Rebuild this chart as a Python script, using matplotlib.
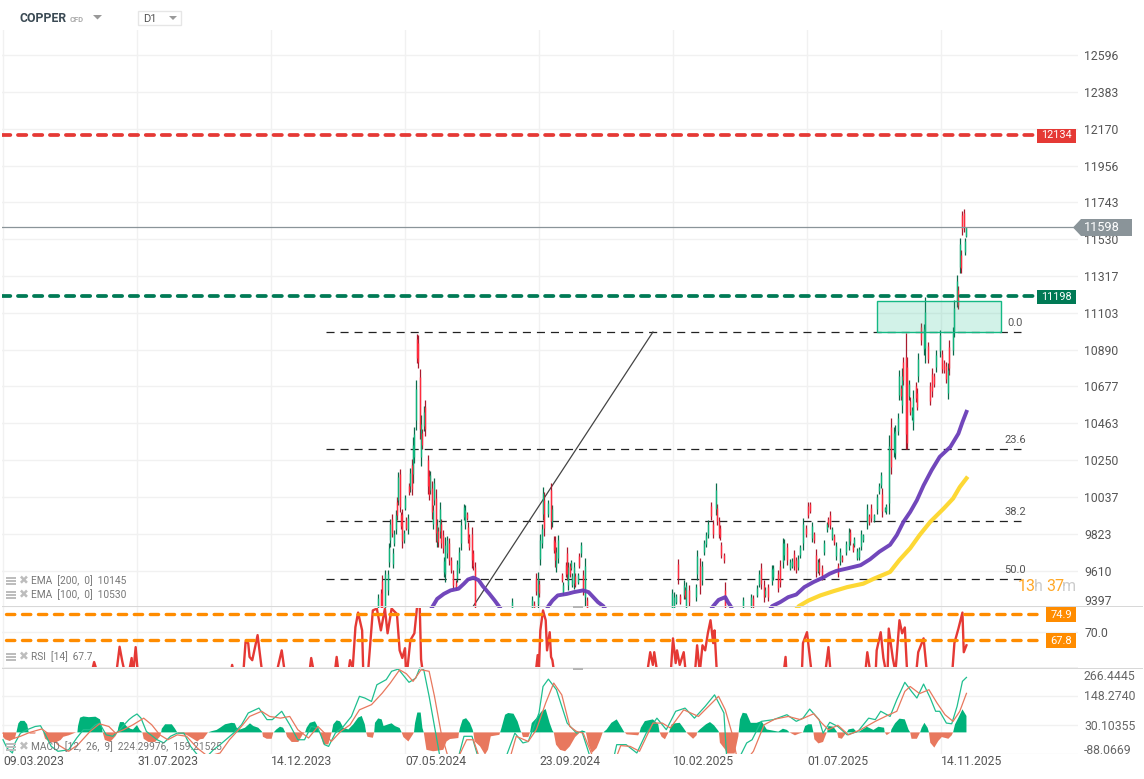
import numpy as np
import matplotlib
matplotlib.use('Agg')
import matplotlib.pyplot as plt
from matplotlib.patches import Rectangle, Polygon

W, H = 1144, 779
plt.rcParams['font.family'] = ['Roboto', 'DejaVu Sans']
plt.rcParams['lines.scale_dashes'] = False

#### data #####
date_ticks = [0, 100, 200, 300, 400, 500, 600, 700]
date_labels = ['09.03.2023', '31.07.2023', '14.12.2023', '07.05.2024', '23.09.2024', '10.02.2025', '01.07.2025', '14.11.2025']
price_ticks = [12596, 12383, 12170, 11956, 11743, 11530, 11317, 11103, 10890, 10677, 10463, 10250, 10037, 9823, 9610, 9397]
rsi_ticks = [70.0]
macd_ticks = [266.4445, 148.2740, 30.10355, -88.0669]
macd_labels = ['266.4445', '148.2740', '30.10355', '-88.0669']

resistance = 12134
support = 11198
last_price = 11598
rsi_upper = 74.9
rsi_lower = 67.8
fib_levels = [10992, 10314, 9897, 9561]
fib_labels = ['0.0', '23.6', '38.2', '50.0']
fib_span = [241, 760]
trend_idx = [351, 485]
trend_val = [9405, 10992]
zone_idx = [652, 745]
zone_val = [10992, 11171]

# idx, open, high, low, close
spring_2024 = [
    (280, 9330, 9477, 9300, 9450), (282, 9480, 9506, 9300, 9340), (283, 9550, 9584, 9300, 9350), (285, 9380, 9617, 9300, 9590),
    (287, 9500, 9613, 9467, 9590), (288, 9660, 9770, 9633, 9740), (289, 9790, 9911, 9750, 9880), (290, 9910, 9940, 9804, 9830),
    (291, 9650, 9740, 9623, 9710), (292, 9770, 9843, 9755, 9820), (293, 9850, 9960, 9823, 9930), (294, 10010, 10038, 9901, 9930),
    (295, 10020, 10180, 9989, 10150), (296, 10170, 10196, 9950, 9980), (297, 9930, 9950, 9852, 9870), (298, 9940, 9970, 9744, 9780),
    (299, 9790, 9843, 9773, 9830), (300, 9975, 10048, 9960, 10030), (301, 9905, 9921, 9843, 9860), (302, 9850, 9940, 9823, 9915),
    (303, 10100, 10116, 10048, 10065), (304, 10100, 10202, 10067, 10175), (305, 10220, 10255, 10048, 10085), (306, 10170, 10386, 10116, 10340),
    (307, 10270, 10440, 10231, 10400), (308, 10480, 10715, 10425, 10660), (309, 10950, 10980, 10811, 10840), (310, 10930, 10975, 10786, 10820),
    (311, 10730, 10776, 10372, 10430), (312, 10270, 10512, 10214, 10460), (313, 10405, 10428, 10317, 10340), (314, 10450, 10565, 10419, 10530),
    (315, 10560, 10600, 10389, 10430), (317, 10250, 10282, 10057, 10100), (318, 10160, 10194, 10018, 10050), (319, 10080, 10190, 10057, 10165),
    (320, 10090, 10132, 9911, 9950), (321, 9880, 9989, 9852, 9960), (322, 10020, 10147, 9989, 10115), (323, 10030, 10083, 9779, 9830),
    (324, 9780, 9907, 9750, 9875), (325, 9840, 9862, 9750, 9775), (326, 9840, 10005, 9799, 9965), (327, 9880, 9911, 9740, 9770),
    (328, 9815, 9843, 9711, 9740), (329, 9600, 9691, 9574, 9665), (330, 9590, 9804, 9545, 9760), (331, 9710, 9813, 9682, 9785),
    (333, 9770, 9799, 9643, 9670), (334, 9670, 9691, 9594, 9615), (336, 9590, 9613, 9506, 9530), (338, 9540, 9555, 9496, 9510),
    (339, 9570, 9672, 9545, 9650), (340, 9625, 9750, 9594, 9720), (342, 9770, 9911, 9730, 9875), (344, 9920, 9999, 9901, 9980),
    (345, 9880, 9989, 9852, 9960), (346, 9940, 9950, 9901, 9915), (347, 9865, 9891, 9770, 9795), (348, 9805, 9823, 9730, 9750),
    (350, 9820, 9862, 9623, 9670), (351, 9710, 9730, 9613, 9635), (352, 9630, 9662, 9300, 9400),
]
autumn_2024 = [
    (380, 9340, 9451, 9300, 9430), (395, 9350, 9461, 9300, 9440), (396, 9420, 9437, 9300, 9340), (398, 9570, 9594, 9467, 9490),
    (399, 9420, 9603, 9300, 9570), (400, 9535, 9555, 9457, 9480), (401, 9680, 9823, 9643, 9790), (402, 9770, 9878, 9740, 9850),
    (403, 9940, 10096, 9901, 10060), (404, 10020, 10067, 9813, 9860), (407, 9940, 10018, 9921, 10000), (409, 10080, 10120, 9852, 9900),
    (410, 9890, 9989, 9862, 9965), (411, 9790, 9812, 9711, 9730), (412, 9775, 9809, 9633, 9670), (413, 9630, 9750, 9603, 9720),
    (414, 9685, 9818, 9652, 9785), (417, 9585, 9594, 9545, 9555), (418, 9480, 9545, 9467, 9530), (420, 9645, 9662, 9574, 9590),
    (421, 9710, 9746, 9555, 9590), (422, 9530, 9662, 9496, 9630), (423, 9635, 9652, 9574, 9590), (424, 9625, 9672, 9613, 9660),
    (425, 9530, 9594, 9516, 9580), (426, 9540, 9662, 9506, 9630), (427, 9580, 9594, 9516, 9530), (429, 9545, 9594, 9535, 9585),
    (430, 9695, 9715, 9623, 9640), (431, 9710, 9779, 9691, 9760), (433, 9585, 9613, 9467, 9495), (434, 9460, 9682, 9408, 9640),
    (436, 9440, 9457, 9300, 9350),
]
winter_2025 = [
    (499, 9350, 9506, 9300, 9480), (501, 9350, 9486, 9300, 9460), (502, 9430, 9476, 9418, 9465), (504, 9650, 9678, 9535, 9565),
    (505, 9465, 9476, 9418, 9430), (508, 9470, 9555, 9447, 9530), (509, 9500, 9515, 9447, 9460), (510, 9400, 9545, 9300, 9520),
    (512, 9500, 9525, 9408, 9430), (517, 9455, 9535, 9437, 9515), (518, 9590, 9730, 9555, 9695), (520, 9640, 9681, 9476, 9520),
    (522, 9555, 9668, 9525, 9640), (523, 9720, 9789, 9701, 9770), (525, 9765, 9836, 9750, 9815), (526, 9820, 9903, 9799, 9880),
    (528, 9985, 10008, 9903, 9925), (530, 9880, 9903, 9799, 9820), (532, 9970, 10116, 9932, 10080), (533, 9975, 9999, 9875, 9900),
    (534, 9900, 9923, 9799, 9825), (535, 9855, 9875, 9789, 9805), (536, 9760, 9779, 9681, 9700), (538, 9700, 9711, 9656, 9670),
    (539, 9500, 9545, 9300, 9400),
]
summer_2025 = [
    (552, 9400, 9457, 9300, 9440), (558, 9400, 9476, 9300, 9455), (560, 9450, 9467, 9300, 9400), (563, 9470, 9525, 9457, 9510),
    (564, 9535, 9613, 9515, 9590), (566, 9625, 9652, 9506, 9535), (568, 9530, 9555, 9428, 9455), (569, 9470, 9515, 9457, 9500),
    (571, 9515, 9535, 9433, 9455), (574, 9550, 9642, 9525, 9620), (575, 9575, 9642, 9555, 9625), (578, 9590, 9613, 9486, 9510),
    (580, 9640, 9672, 9515, 9545), (582, 9660, 9801, 9623, 9770), (583, 9700, 9796, 9672, 9770), (585, 9745, 9770, 9642, 9670),
    (587, 9625, 9676, 9613, 9660), (589, 9635, 9681, 9623, 9665), (590, 9705, 9730, 9613, 9640), (592, 9670, 9691, 9594, 9615),
    (593, 9630, 9701, 9613, 9680), (595, 9700, 9760, 9681, 9745), (597, 9770, 9913, 9730, 9880), (599, 9860, 9874, 9805, 9820),
    (601, 9985, 10008, 9913, 9935), (602, 9995, 10008, 9942, 9955), (604, 9800, 9893, 9779, 9870), (605, 9820, 9835, 9769, 9785),
    (607, 9700, 9736, 9574, 9610), (608, 9610, 9676, 9594, 9660), (609, 9660, 9681, 9584, 9605), (611, 9625, 9642, 9555, 9575),
    (613, 9720, 9786, 9701, 9770), (615, 9850, 9893, 9835, 9880), (616, 9910, 9923, 9864, 9880), (617, 9935, 9958, 9854, 9875),
    (619, 9800, 9864, 9786, 9850), (620, 9810, 9825, 9760, 9775), (622, 9695, 9776, 9672, 9755), (623, 9635, 9652, 9574, 9590),
    (625, 9665, 9740, 9642, 9720), (626, 9690, 9701, 9662, 9670), (629, 9720, 9782, 9701, 9765), (631, 9755, 9860, 9730, 9835),
    (632, 9835, 9854, 9760, 9780), (634, 9760, 9770, 9721, 9730), (635, 9760, 9805, 9750, 9795), (637, 9685, 9740, 9672, 9725),
    (639, 9690, 9750, 9672, 9735), (640, 9755, 9848, 9730, 9825), (642, 9785, 9825, 9776, 9815), (645, 9885, 9999, 9854, 9970),
    (646, 9925, 9940, 9874, 9890), (648, 9975, 9999, 9893, 9915), (650, 9905, 9940, 9893, 9930), (652, 9965, 10057, 9940, 10035),
    (654, 10070, 10116, 10057, 10100), (655, 10105, 10184, 10087, 10165), (656, 10055, 10087, 9921, 9955), (658, 9955, 9979, 9950, 9975),
    (659, 9955, 9999, 9940, 9985),
]
autumn_2025 = [
    (661, 10000, 10395, 9940, 10330), (663, 10440, 10493, 10171, 10210), (665, 10300, 10444, 10268, 10410), (666, 10290, 10454, 10258, 10420),
    (668, 10420, 10522, 10395, 10495), (669, 10630, 10772, 10596, 10740), (670, 10665, 10684, 10596, 10620), (671, 10570, 10782, 10522, 10740),
    (672, 10820, 10850, 10684, 10715), (674, 10850, 10988, 10313, 10400), (675, 10790, 10850, 10313, 10350), (676, 10620, 10713, 10596, 10690),
    (677, 10595, 10616, 10512, 10530), (678, 10500, 10557, 10483, 10540), (679, 10470, 10655, 10424, 10610), (681, 10680, 10704, 10586, 10610),
    (682, 10640, 10665, 10538, 10560), (683, 10735, 10870, 10704, 10835), (685, 11020, 11045, 10918, 10945), (687, 10895, 11041, 10860, 11010),
    (688, 10900, 11195, 10811, 11110), (690, 10910, 10934, 10811, 10835), (692, 10680, 10704, 10567, 10595), (693, 10750, 10782, 10616, 10650),
    (695, 10735, 10752, 10674, 10690), (696, 10790, 10889, 10762, 10860), (699, 10880, 11006, 10850, 10975), (701, 10865, 10889, 10752, 10780),
    (702, 10815, 10831, 10752, 10770), (704, 10795, 10821, 10694, 10720), (705, 10640, 10811, 10606, 10770), (706, 10905, 10948, 10743, 10785),
    (709, 10890, 11022, 10860, 10990), (710, 11000, 11175, 10963, 11130), (712, 11170, 11325, 11137, 11290), (713, 11235, 11261, 11126, 11150),
    (714, 11370, 11534, 11331, 11500), (715, 11440, 11466, 11331, 11360), (716, 11670, 11695, 11554, 11590), (717, 11680, 11703, 11573, 11600),
    (718, 11455, 11534, 11437, 11520), (719, 11550, 11600, 11544, 11598),
]

ema100_idx = [300, 318, 321, 324, 329, 334, 340, 344, 347, 351, 355, 358, 363, 367, 370, 373, 390, 405, 407, 410, 414, 421, 426, 433, 437, 441, 444, 448, 451,
              490, 527, 530, 534, 539, 541, 543, 545, 558, 571, 574, 580, 586, 592, 598, 605, 612, 617, 622, 630, 640, 647, 654, 662, 667, 672, 677, 682, 687, 693, 699, 707, 713, 716, 719]
ema100_val = [9250, 9370, 9408, 9447, 9476, 9496, 9506, 9535, 9559, 9570, 9555, 9521, 9476, 9437, 9405, 9370, 9250, 9370, 9405, 9437, 9467, 9476, 9486, 9496, 9486, 9453, 9428, 9405, 9370,
              9200, 9370, 9405, 9441, 9457, 9428, 9405, 9370, 9300, 9370, 9405, 9428, 9457, 9472, 9515, 9545, 9570, 9593, 9609, 9623, 9642, 9676, 9720, 9760, 9816, 9893, 9950, 10018, 10104, 10192, 10269, 10327, 10404, 10470, 10530]
ema200_idx = [575, 590, 594, 601, 610, 620, 630, 642, 650, 662, 669, 677, 684, 692, 702, 709, 714, 719]
ema200_val = [9300, 9370, 9405, 9437, 9467, 9492, 9515, 9535, 9564, 9603, 9672, 9740, 9816, 9893, 9970, 10028, 10094, 10145]

rsi_idx = [0, 65, 68, 72, 84, 87, 89, 92, 93, 96, 97, 99, 101, 169, 171, 173, 179, 181, 183, 184, 186, 190, 194, 203, 208, 211, 228, 230, 233, 247, 249, 251,
           257, 259, 261, 263, 265, 268, 269, 272, 276, 279, 282, 285, 287, 290, 294, 296, 298, 300, 301, 304, 307, 309, 311, 312, 314,
           397, 399, 400, 401, 403, 405, 406, 408, 409, 410, 412, 480, 483, 485, 486, 489, 498, 500, 502, 503, 505, 508, 510, 516, 518, 520, 522, 524, 526, 528, 530, 531, 533,
           582, 584, 585, 596, 597, 600, 604, 613, 616, 618, 643, 645, 648, 651, 652, 655, 657, 660, 661, 664, 666, 669, 671, 673, 675, 681, 683, 687, 690, 708, 710, 713, 716, 717, 719]
rsi_val = [57, 57, 61.8, 57, 57, 66, 62, 57, 57, 62.9, 58, 65.9, 57, 57, 61, 57, 57, 67.3, 67, 63.2, 62.3, 69.2, 57, 57, 65, 57, 57, 62.9, 57, 57, 63.2, 57,
           57, 62.3, 60.2, 71.4, 75.4, 70.5, 57, 57, 76, 76.5, 70.5, 76.5, 69.7, 76.5, 75, 65, 62.9, 65.6, 57, 67.8, 69.7, 77, 77, 62.5, 57,
           57, 63.7, 60.5, 70.5, 76, 73.3, 65, 70, 63.2, 62.3, 57, 57, 64.5, 61, 64.5, 57, 57, 68.3, 61.5, 65, 61, 64.5, 57, 57, 66.4, 59, 66.4, 65, 69.7, 73.3, 67, 70.5, 57,
           57, 63.2, 57, 57, 67, 70, 57, 57, 65.9, 57, 57, 64.5, 57, 57, 65, 70, 62.9, 57, 71, 62.9, 59, 73.3, 69.7, 71.3, 57, 57, 64.5, 68.3, 57, 57, 67, 71, 75.4, 64.5, 66.4]

# idx, histogram value
hist_2023 = [
    (0, -18), (1.5, -28), (5, -35), (9, -22), (10, 0), (11.5, 37), (13, 47), (16, 47), (18, 33), (19, 5), (19.2, 0), (20, -5), (24, -5), (24.4, 0), (30, 0),
    (30.2, -4), (31.4, -26), (35, -39), (39, -42), (43, -31), (45, -18), (49, -12), (54, -1), (55.5, 0), (56, 26), (57.5, 60), (60, 65), (64, 62), (69, 64), (72.4, 53), (73.6, 26), (74.4, 0),
    (76, -31), (80, -39), (84, -15), (85.5, 0), (86, 19), (87.3, 42), (90, 42), (92, 26), (95, 15), (97, 12), (100, 30), (102, 10), (104, 0), (105, -26), (108.5, -39), (113.5, -39), (117, -18), (118, 0),
    (118.5, 15), (121, 33), (126, 33), (128.4, 15), (130, 0), (131, -5), (137, -10), (138.5, -15), (145, -37), (147, -28), (149.5, -26), (153, 0), (155.7, 5), (159.4, 10), (162, 19), (165.7, 33), (170.6, 39),
    (173, 37), (174.4, 19), (177, 12), (180.6, 19), (184.3, 37), (186.8, 26), (190.5, 19), (193, 5), (193.5, 0), (194, -18), (196.8, -26), (200.5, -26), (201.7, -1), (202, 0), (204, 12), (206.7, 23), (209, 19),
    (210.4, 3), (211, 0), (212, -18), (215.4, -39), (220.4, -39), (224, -5), (225.4, 0), (226.6, 19), (229, 39), (232.8, 45), (234, 33), (236, 5), (236.6, 0), (237, -8), (239, -49), (242.8, -49), (244.5, -15), (245.3, 0),
    (246.5, 33), (249, 49), (251.5, 45), (254, 19), (257.7, 12), (261.4, 33), (265, 60), (267.7, 67), (270, 33), (271, 0), (272, -18), (276, -22), (277, 0), (277.6, 39), (280, 57), (282.6, 53), (284, 26), (287.6, 33), (290, 37), (292.5, 26),
]
hist_2024 = [
    (296, 18), (297.5, 0), (298.8, -19), (302.5, -37), (305.7, -10), (306.7, 0), (307.5, 38), (309.2, 81), (311.7, 81), (313, 18), (314, 0), (316, -71), (321, -77), (328.6, -71), (331, -37), (333.6, -27), (339.8, -23), (340.3, 0),
    (341, 18), (343, 52), (345.6, 58), (348.5, 38), (350.5, 11), (351, 0), (352, -37), (356, -57), (359.7, -91), (362, -70), (364, -16), (370.4, -10), (371, 0), (372, 18), (374.7, 72), (377, 79), (381, 76), (384, 45), (386.4, 4), (387, 0),
    (388, -19), (392, -19), (393.3, 0), (394.6, 38), (398, 58), (402, 86), (405, 95), (408, 38), (410, 8), (411, 0), (412.7, -50), (415.7, -71), (419.5, -77), (423, -57), (427, -19), (430.6, 0), (432, 8), (434.4, 4), (435, 0),
    (437, -50), (439.4, -84), (443, -64), (445.6, -30), (447.5, -1), (448, 0), (450.5, 12), (454, 39), (458, 53), (461.7, 19), (463.4, 3), (464, 0), (465.4, -8), (474, -12), (475, 0), (476, 19), (479, 46), (485, 53), (489, 33), (490, 0),
    (491.5, -18), (494, -28), (496.5, -1), (497, 0), (499, 33), (501.5, 37), (505, 39), (507.7, 19), (509.7, 3), (510, 0), (511.4, -8), (515, -26), (517.6, -12), (518, 0), (520, 12), (524.6, 33), (527.6, 42), (530.6, 29), (534, 5), (534.3, 0),
]
hist_2025 = [
    (535, -42), (538.8, -69), (540, -86), (546, -86), (548.8, -15), (549, 0), (550, 53), (552, 80), (555, 77), (558, 39), (562.4, 39), (566, 46), (570, 12), (578.6, 3), (582, 15), (585, 10), (587, 0), (591, -12), (594, -5), (597, 0),
    (598.6, 26), (601, 33), (603.5, 33), (604.8, 0), (605.5, -28), (608.5, -45), (612, -39), (614.7, -1), (615, 0), (616, 26), (619.7, 23), (622, 5), (622.5, 0), (623.4, -22), (626, -26), (628.4, -8), (629.7, 0), (631, 12), (634.6, 16), (636.6, 5), (638, 0),
    (644.6, 23), (649.6, 10), (653.3, 23), (657.5, 19), (658, 0), (659.5, -11), (662.5, 0), (663, 12), (665.7, 37), (669, 56), (673, 53), (675.7, 12), (677, 0), (678, -26), (682, -26), (684.4, 0), (685.6, 19), (687.6, 39), (690, 19), (691, 0),
    (692, -42), (695, -62), (698, -35), (700.6, -19), (705.5, -26), (708, -12), (709, 0), (710.5, 33), (713, 60), (716, 94), (719, 67),
]

macd_idx = [0, 3, 7, 9, 13, 18, 24, 28, 31, 36, 41, 49, 55, 60, 65, 69, 72, 77, 82, 87, 94, 97, 100, 103, 107, 115, 120, 125, 130, 135, 140, 145, 150, 157, 162, 172, 178, 183, 191, 197, 201, 208, 214, 220, 225, 230, 235, 240, 243, 248, 254, 260, 266, 270, 275, 279, 286, 290, 295,
            303, 308, 311, 314, 318, 322, 326, 332, 337, 340, 344, 350, 354, 365, 376, 382, 388, 392, 400, 403, 407, 413, 421, 428, 432, 438, 447, 456, 458, 465, 473, 480, 488, 495, 502, 509, 516, 524, 531, 538, 540, 545, 550, 555, 559, 566, 575,
            585, 592, 597, 602, 609, 612, 617, 623, 630, 638, 646, 651, 655, 662, 667, 673, 678, 682, 687, 692, 696, 699, 704, 708, 712, 716, 719]
macd_val = [-30, -64, -84, -43, -3, 11, 24, 27, -3, -57, -77, -71, -23, 11, 11, 31, 38, -10, -16, 11, 52, 65, 75, 58, 4, -30, -43, -16, -3, -3, -57, -91, -111, -71, -50, -3, 31, 79, 99, 52, 52, 86, 31, -30, -30, 24, 18, -50, -57, -3, 24, 65, 147, 140, 126, 194, 215, 249, 258,
            204, 221, 262, 255, 147, 24, -98, -166, -111, -98, -16, -16, -91, -166, -91, -3, -43, -37, 79, 187, 217, 174, 38, -3, 4, -98, -166, -98, -50, -50, -84, -3, 58, 11, 86, 99, 58, 106, 153, 79, -98, -166, -98, -43, -30, 45, 52,
            72, 45, 58, 95, 52, -3, 41, 24, -10, 4, 58, 52, 86, 65, 133, 204, 167, 140, 197, 140, 86, 86, 38, 35, 106, 208, 224]
signal_idx = [0, 5, 13, 20, 29, 35, 41, 49, 56, 65, 72, 79, 84, 90, 97, 105, 111, 117, 123, 130, 137, 145, 153, 162, 169, 177, 184, 193, 199, 207, 214, 220, 228, 235, 240, 245, 252, 259, 266, 275, 283, 289, 296,
              301, 306, 312, 318, 322, 327, 332, 339, 346, 351, 356, 367, 378, 383, 392, 398, 405, 411, 417, 423, 428, 433, 441, 449, 457, 461, 468, 475, 485, 492, 498, 508, 519, 534, 539, 544, 548, 551, 555, 560, 568, 576, 586,
              595, 605, 611, 616, 623, 631, 640, 651, 660, 667, 673, 677, 684, 691, 697, 703, 709, 714, 719]
signal_val = [-3, -30, -16, 0, 14, -10, -50, -77, -50, 4, 35, 24, -3, 11, 31, 58, 31, -10, -30, -10, -16, -64, -98, -84, -30, 18, 65, 86, 65, 58, 65, 11, -23, 24, -3, -37, 4, 31, 92, 113, 160, 201, 255,
              239, 208, 255, 249, 147, -3, -98, -111, -30, -30, -111, -180, -111, -16, -37, 11, 120, 201, 153, 24, 4, -3, -111, -180, -111, -54, -57, -77, 38, 38, 18, 92, 65, 147, 92, -3, -111, -180, -111, -77, 31, 54, 65,
              52, 76, 38, 11, 29, -10, 11, 45, 69, 86, 167, 187, 158, 174, 120, 72, 45, 86, 159]


#### helpers #####
def bar_to_x(px):
    return (px - 3) / 1.34


def add_panel(top, bottom):
    return fig.add_axes([2 / W, 1 - bottom / H, 1076 / W, (bottom - top) / H])


def px_text(x, y, s, **kw):
    kw.setdefault('va', 'center')
    kw.setdefault('color', '#666666')
    kw.setdefault('fontsize', 8.8)
    fig.text(x / W, 1 - y / H, s, **kw)


def px_rect(x0, y0, x1, y1, **kw):
    fig.add_artist(Rectangle((x0 / W, 1 - y1 / H), (x1 - x0) / W, (y1 - y0) / H, transform=fig.transFigure, **kw))


def px_poly(points, **kw):
    fig.add_artist(Polygon([(x / W, 1 - y / H) for x, y in points], closed=True, transform=fig.transFigure, **kw))


def style_panel(ax, xlim):
    ax.set_xlim(*xlim)
    ax.set_xticks(date_ticks)
    ax.grid(True, color='#f1f1f1', linewidth=1)
    ax.set_axisbelow(True)
    for s in ax.spines.values():
        s.set_visible(False)
    ax.yaxis.tick_right()
    ax.tick_params(axis='both', length=0, labelcolor='#555555', labelsize=8.8)
    ax.tick_params(axis='x', labelbottom=False, pad=1)
    ax.tick_params(axis='y', pad=4.5)


def draw_candles(ax, rows):
    rows = np.array(rows, dtype=float)
    idx, o, hi, lo, c = rows.T
    up = c >= o
    ax.vlines(idx[up], lo[up], hi[up], colors='#0b6b4b', linewidth=0.9, zorder=3)
    ax.vlines(idx[~up], lo[~up], hi[~up], colors='#a81b2e', linewidth=0.9, zorder=3)
    ax.vlines(idx[up], o[up], c[up], colors='#10b47c', linewidth=0.95, zorder=4)
    ax.vlines(idx[~up], c[~up], o[~up], colors='#ff2b3d', linewidth=0.95, zorder=4)


def level_line(ax, x0, x1, val, color, lw):
    ax.plot([x0, x1], [val, val], color=color, linewidth=lw, linestyle=(0, (6, 5.5)),
            dash_capstyle='round', zorder=6)


def indicator_label(y, s):
    for k in range(3):
        px_rect(6, y - 4 + k * 3, 16, y - 2.2 + k * 3, facecolor='#bdbdbd', edgecolor='none')
    px_text(19, y, '✖', fontsize=8.5, color='#bdbdbd', family='DejaVu Sans')
    px_text(31, y, s, fontsize=7.3, color='#777777')


#### figure #####
fig = plt.figure(figsize=(W / 100, H / 100), dpi=100, facecolor='white')
xlim = (bar_to_x(2), bar_to_x(1078))

ax = add_panel(30, 607.5)
ax_rsi = add_panel(607.5, 668)
ax_macd = add_panel(667, 754)

### main panel
style_panel(ax, xlim)
ax.set_ylim(9397, 11743 + (202.3 - 30) * 5.79)
ax.set_yticks(price_ticks)
ax.set_yticklabels([str(p) for p in price_ticks])
ax.get_yticklabels()[-1].set_va('bottom')

for level, name in zip(fib_levels, fib_labels):
    ax.plot(fib_span, [level, level], color='#222222', linewidth=0.9, linestyle=(0, (5.8, 4.3)), zorder=2)
    ax.annotate(name, (bar_to_x(1015), level), xytext=(0, 6.5), textcoords='offset points',
                ha='center', va='center', fontsize=8, color='#555555')
ax.plot(trend_idx, trend_val, color='#444444', linewidth=0.9, zorder=2)

for rows in [spring_2024, autumn_2024, winter_2025, summer_2025, autumn_2025]:
    draw_candles(ax, rows)

ax.plot(ema100_idx, ema100_val, color='#6a3db8', linewidth=2.8, alpha=0.95, zorder=5)
ax.plot(ema200_idx, ema200_val, color='#fdd835', linewidth=3, zorder=5)

ax.add_patch(Rectangle((zone_idx[0], zone_val[0]), zone_idx[1] - zone_idx[0], zone_val[1] - zone_val[0],
                       facecolor='#1fbf8f', alpha=0.2, edgecolor='none', zorder=6))
ax.add_patch(Rectangle((zone_idx[0], zone_val[0]), zone_idx[1] - zone_idx[0], zone_val[1] - zone_val[0],
                       fill=False, edgecolor='#14b884', linewidth=1, zorder=6))

level_line(ax, -1, bar_to_x(1036), resistance, '#e53935', 2.7)
level_line(ax, -1, bar_to_x(1036), support, '#007a55', 2.7)
ax.plot(xlim, [last_price, last_price], color='#8a9499', linewidth=0.9, zorder=6)

### rsi panel
style_panel(ax_rsi, xlim)
ax_rsi.set_ylim(60.15, 76.8)
ax_rsi.set_yticks(rsi_ticks)
ax_rsi.set_yticklabels(['70.0'])
ax_rsi.plot(rsi_idx, rsi_val, color='#e53935', linewidth=1.7, zorder=3)
level_line(ax_rsi, bar_to_x(6), bar_to_x(1044), rsi_upper, '#ff8c00', 2.4)
level_line(ax_rsi, bar_to_x(6), bar_to_x(1044), rsi_lower, '#ff8c00', 2.4)

### macd panel
style_panel(ax_macd, xlim)
ax_macd.set_ylim(macd_ticks[3], macd_ticks[0])
ax_macd.set_yticks(macd_ticks)
ax_macd.set_yticklabels([])
hist = np.array(hist_2023 + hist_2024 + hist_2025, dtype=float)
hx, hv = hist[:, 0], hist[:, 1]
ax_macd.fill_between(hx, hv, 0, where=hv >= 0, interpolate=True, color='#00b27a', linewidth=0, zorder=2)
ax_macd.fill_between(hx, hv, 0, where=hv <= 0, interpolate=True, color='#e8785e', linewidth=0, zorder=2)
ax_macd.plot(macd_idx, macd_val, color='#1fbf8f', linewidth=0.9, zorder=3)
ax_macd.plot(signal_idx, signal_val, color='#e8785e', linewidth=0.9, zorder=3)
ax_macd.set_xticklabels(date_labels, ha='left')
ax_macd.tick_params(axis='x', labelbottom=True, labelsize=8.7, labelcolor='#555555')
for lab, y in zip(macd_labels, [676, 697, 726, 750]):
    px_text(1084, y, lab)

### panel separators and grab handles
for y in [606.8, 668.3]:
    px_rect(2, y - 0.6, 1143, y + 0.6, facecolor='#d8d8d8', edgecolor='none', zorder=8)
    px_rect(573, y - 0.8, 583, y + 1.2, facecolor='#b5b5b5', edgecolor='none', zorder=8)

### price tags
px_rect(1037, 129, 1076, 143, facecolor='#e53935', edgecolor='none')
px_text(1056.5, 135.5, str(resistance), color='white', ha='center', fontsize=7.8)
px_rect(1037, 290, 1076, 304, facecolor='#007a55', edgecolor='none')
px_text(1056.5, 296.5, str(support), color='white', ha='center', fontsize=7.8)
px_poly([(1073, 227.5), (1081, 219), (1132, 219), (1132, 236), (1081, 236)], facecolor='#8a9499', edgecolor='none')
px_text(1084, 227.5, str(last_price), color='white', fontsize=9.2)
px_rect(1046, 607, 1076, 622, facecolor='#ff8c00', edgecolor='none')
px_text(1061, 614.5, str(rsi_upper), color='white', ha='center', fontsize=8)
px_rect(1046, 633, 1076, 648, facecolor='#ff8c00', edgecolor='none')
px_text(1061, 640.5, str(rsi_lower), color='white', ha='center', fontsize=8)

### header and legends
px_text(20, 18.5, 'COPPER', fontsize=8.8, fontweight='bold', color='#3b4a54')
px_text(70, 19, 'CFD', fontsize=5.5, color='#aaaaaa', fontweight='bold')
px_poly([(93, 15), (102, 15), (97.5, 19.5)], facecolor='#999999', edgecolor='none')
px_rect(137.5, 10.5, 180.5, 25, facecolor='white', edgecolor='#e6e6e6', linewidth=1)
px_text(143, 18.5, 'D1', fontsize=8, color='#555555')
px_poly([(169, 16), (177, 16), (173, 20)], facecolor='#999999', edgecolor='none')

indicator_label(581, 'EMA  [200,  0]  10145')
indicator_label(595, 'EMA  [100,  0]  10530')
indicator_label(657, 'RSI  [14]  67.7')
indicator_label(747, 'MACD  [12,  26,  9]  224.29976,  159.21525')

px_text(1018, 586.5, '13', fontsize=11.5, color='#ffa726')
px_text(1034, 586.5, 'h', fontsize=11.5, color='#cccccc')
px_text(1046, 586.5, '37', fontsize=11.5, color='#ffa726')
px_text(1062, 586.5, 'm', fontsize=11.5, color='#cccccc')

fig.savefig('out.png', dpi=100, facecolor='white')
